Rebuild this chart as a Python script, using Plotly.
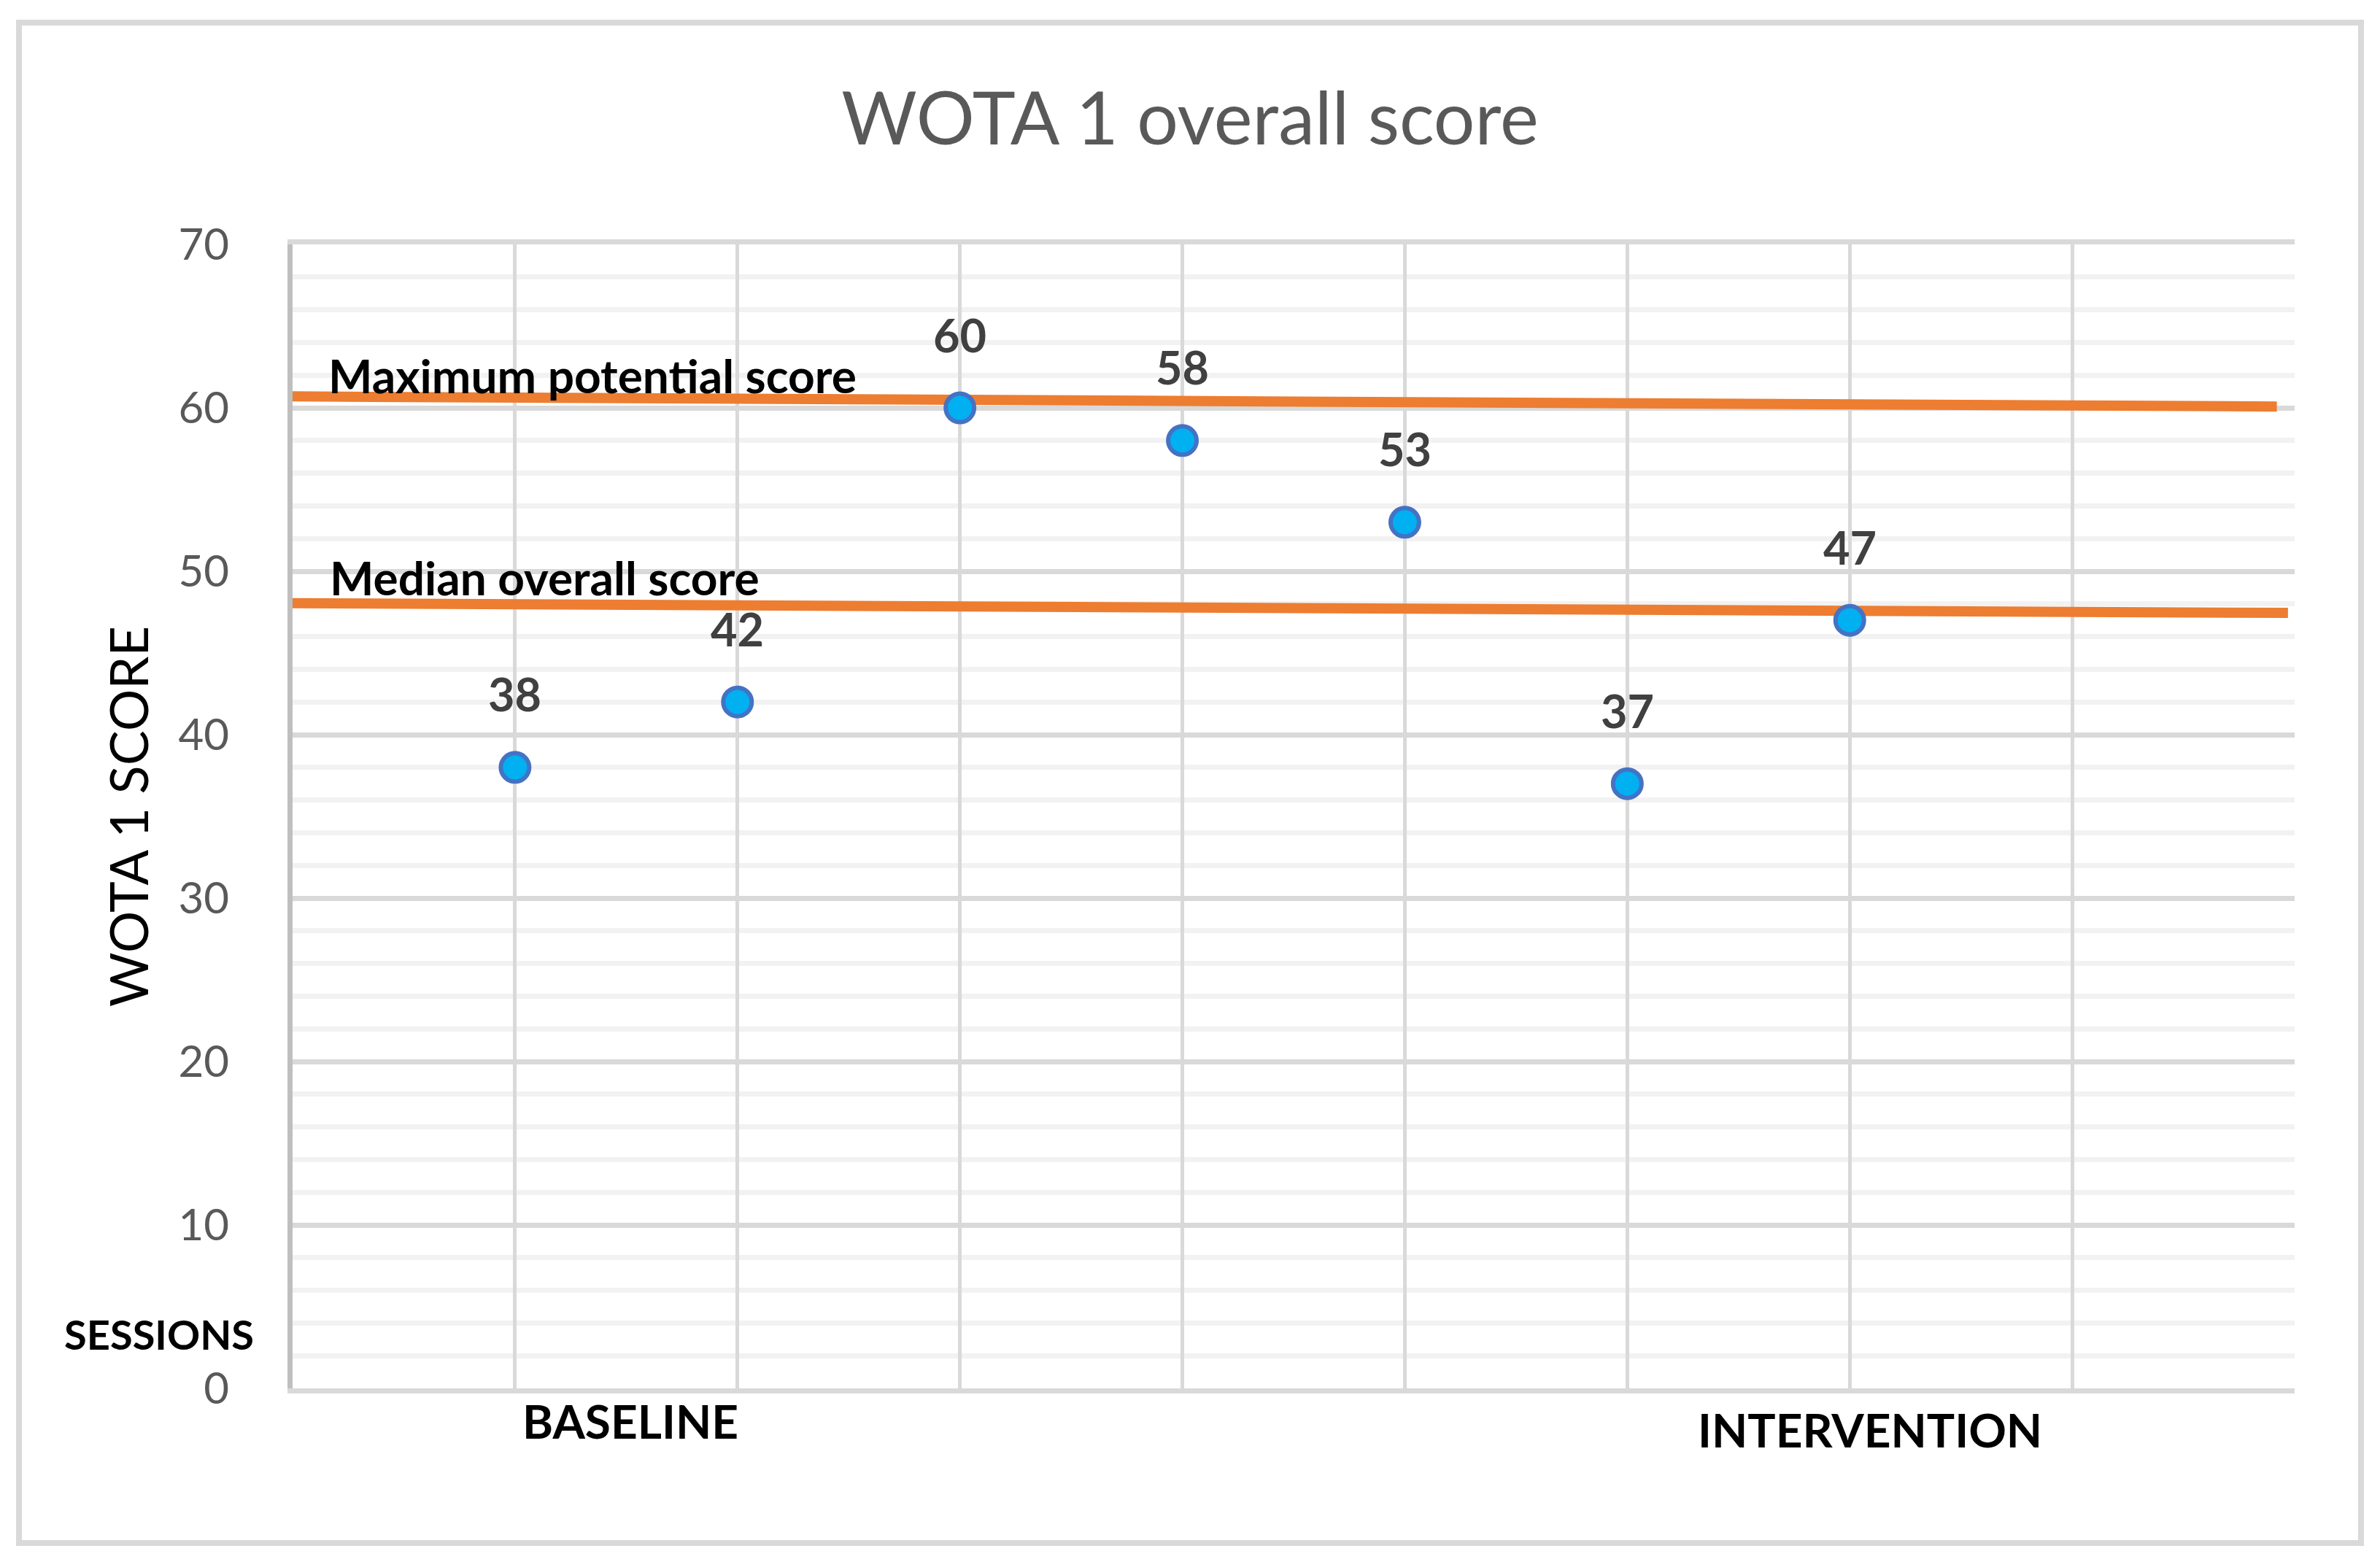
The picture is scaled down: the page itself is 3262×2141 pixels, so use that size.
import plotly.graph_objects as go

# ---- data ----
sessions = [1, 2, 3, 4, 5, 6, 7]
scores = [38, 42, 60, 58, 53, 37, 47]

max_line_x = [-0.03, 8.92]
max_line_y = [60.7, 60.08]
median_line_x = [0.0, 8.97]
median_line_y = [48.05, 47.45]

y_tick_vals = [0, 10, 20, 30, 40, 50, 60, 70]
y_tick_text = ["0", "10", "20", "30", "40", "50", "60", "70"]

title_text = "WOTA 1 overall score"
y_title = "WOTA 1 SCORE"
max_label = "Maximum potential score"
median_label = "Median overall score"
phase_labels = ["BASELINE", "INTERVENTION"]
phase_x = [1.52, 7.09]
phase_ypix = [1948, 1959]
sessions_label = "SESSIONS"

FONT = "Lato, 'Open Sans', sans-serif"
ORANGE = "#ED7D31"

# target pixel geometry in the screenshot (page body has an 8px margin)
OFF = 8
W, H = 3262 - OFF, 2141 - OFF
PL, PR, PT, PB = 401, 3145, 335, 1903          # plot area in screenshot px
L, T = PL - OFF, PT - OFF
R, B = (W + OFF) - PR, (H + OFF) - PB
pw, ph = PR - PL, PB - PT

fig = go.Figure()

fig.add_trace(go.Scatter(
    x=max_line_x, y=max_line_y, mode="lines",
    line=dict(color=ORANGE, width=14), hoverinfo="skip", showlegend=False,
))
fig.add_trace(go.Scatter(
    x=median_line_x, y=median_line_y, mode="lines",
    line=dict(color=ORANGE, width=14), hoverinfo="skip", showlegend=False,
))
fig.add_trace(go.Scatter(
    x=sessions, y=scores, mode="markers",
    marker=dict(size=39, color="#00B0F0", line=dict(color="#4472C4", width=6)),
    showlegend=False, cliponaxis=False,
))

annotations = []
for xv, yv in zip(sessions, scores):
    annotations.append(dict(
        x=xv, y=yv, xref="x", yref="y", text=str(yv), showarrow=False,
        yshift=101, xanchor="center", yanchor="middle",
        font=dict(family=FONT, size=63, color="#404040", weight="bold"),
    ))

annotations.append(dict(
    x=0.154, y=62.0, xref="x", yref="y", text=max_label, showarrow=False,
    xanchor="left", yanchor="middle",
    font=dict(family=FONT, size=64, color="#000000", weight="bold"),
))
annotations.append(dict(
    x=0.16, y=49.6, xref="x", yref="y", text=median_label, showarrow=False,
    xanchor="left", yanchor="middle",
    font=dict(family=FONT, size=64, color="#000000", weight="bold"),
))
for t, xv, ypx in zip(phase_labels, phase_x, phase_ypix):
    annotations.append(dict(
        x=xv, y=(PB - ypx) / ph, xref="x", yref="paper", text=t, showarrow=False,
        xanchor="center", yanchor="middle",
        font=dict(family=FONT, size=64, color="#000000", weight="bold"),
    ))
annotations.append(dict(
    x=(218 - PL) / pw, y=(PB - 1828) / ph, xref="paper", yref="paper",
    text=sessions_label, showarrow=False, xanchor="center", yanchor="middle",
    font=dict(family=FONT, size=56, color="#000000", weight="bold"),
))

shapes = [dict(
    type="rect", xref="paper", yref="paper",
    x0=(26 - PL) / pw, x1=(3236 - PL) / pw,
    y0=(PB - 2115) / ph, y1=(PB - 31) / ph,
    line=dict(color="#D9D9D9", width=8), fillcolor="rgba(0,0,0,0)", layer="below",
)]

fig.update_layout(
    width=W, height=H,
    margin=dict(l=L, r=R, t=T, b=B, pad=0),
    paper_bgcolor="white", plot_bgcolor="white",
    title=dict(text=title_text, x=(1631 - OFF) / W, xref="container", xanchor="center",
               y=1 - (163 - OFF) / H, yref="container", yanchor="middle",
               font=dict(family=FONT, size=100, color="#595959")),
    annotations=annotations,
    shapes=shapes,
    showlegend=False,
)

fig.update_xaxes(
    range=[0, 9], dtick=1, tick0=0, showticklabels=False, ticks="",
    showgrid=True, gridcolor="#D9D9D9", gridwidth=5, zeroline=False,
    showline=True, linecolor="#D9D9D9", linewidth=7, mirror=True,
)
fig.update_yaxes(
    range=[0, 70], tickvals=y_tick_vals, ticktext=y_tick_text, ticks="",
    showgrid=True, gridcolor="#D9D9D9", gridwidth=7, zeroline=False,
    minor=dict(dtick=2, tick0=0, showgrid=True, gridcolor="#F2F2F2", gridwidth=7),
    showline=True, linecolor="#BFBFBF", linewidth=7,
    tickfont=dict(family=FONT, size=60, color="#595959"),
    ticklabelstandoff=68,
    title=dict(text=y_title, standoff=20, font=dict(family=FONT, size=72, color="#000000")),
)

fig.write_html("out.html")
